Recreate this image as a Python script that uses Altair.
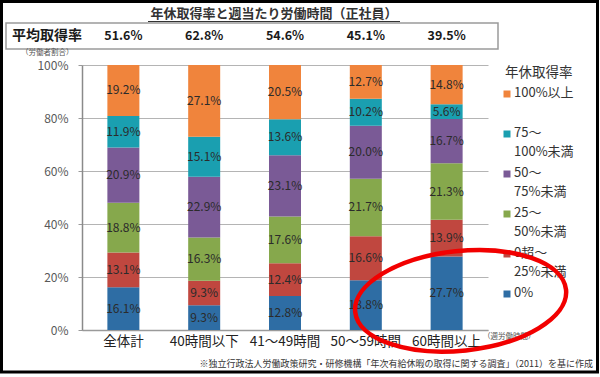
import altair as alt
import pandas as pd

FONT = "Noto Sans CJK JP"

categories = ["全体計", "40時間以下", "41～49時間", "50～59時間", "60時間以上"]
avg_rate = ["51.6%", "62.8%", "54.6%", "45.1%", "39.5%"]

# stacking order: bottom -> top
levels = ["0%", "0超～25%未満", "25～50%未満", "50～75%未満", "75～100%未満", "100%以上"]
legend_lines = [["0%"], ["0超～", "25%未満"], ["25～", "50%未満"], ["50～", "75%未満"],
                ["75～", "100%未満"], ["100%以上"]]
colors = ["#2E6DA4", "#C0473F", "#86A84C", "#7A5A96", "#1A9FB0", "#F0843C"]

v_0 = [16.1, 9.3, 12.8, 18.8, 27.7]
v_0_25 = [13.1, 9.3, 12.4, 16.6, 13.9]
v_25_50 = [18.8, 16.3, 17.6, 21.7, 21.3]
v_50_75 = [20.9, 22.9, 23.1, 20.0, 16.7]
v_75_100 = [11.9, 15.1, 13.6, 10.2, 5.6]
v_100 = [19.2, 27.1, 20.5, 12.7, 14.8]
series = [v_0, v_0_25, v_25_50, v_50_75, v_75_100, v_100]

rows = []
for k, (lvl, vals) in enumerate(zip(levels, series)):
    for c, v in zip(categories, vals):
        rows.append({"cat": c, "level": lvl, "order": k, "value": v})
df = pd.DataFrame(rows)

xscale = alt.Scale(domain=categories, paddingInner=0.604, paddingOuter=0.314)
yscale = alt.Scale(domain=[0, 100])
cscale = alt.Scale(domain=levels, range=colors)

base = alt.Chart(df).transform_stack(
    stack="value", groupby=["cat"], sort=[alt.SortField("order", order="ascending")], as_=["y0", "y1"]
).transform_calculate(
    mid="(datum.y0 + datum.y1) / 2",
    lab="format(datum.value, '.1f') + '%'",
)

bars = base.mark_bar().encode(
    x=alt.X("cat:N", scale=xscale, sort=categories,
            axis=alt.Axis(title=None, labelAngle=0, ticks=False, labelPadding=4,
                          labelFontSize=13.5, labelColor="#222", labelFont=FONT,
                          domainColor="#9A9A9A", domainWidth=1.5)),
    y=alt.Y("y0:Q", scale=yscale,
            axis=alt.Axis(title=None, values=[0, 20, 40, 60, 80, 100],
                          labelExpr="datum.value + '%'", labelFontSize=12,
                          labelColor="#595959", labelFont=FONT, tickSize=4,
                          tickColor="#9A9A9A", labelPadding=10,
                          gridColor="#B4B4B4", gridWidth=1,
                          domainColor="#8A8A8A", domainWidth=1.5)),
    y2="y1:Q",
    color=alt.Color("level:N", scale=cscale, legend=None),
)

bar_labels = base.mark_text(fontSize=12, font=FONT, color="#2B2B2B").encode(
    x=alt.X("cat:N", scale=xscale, sort=categories),
    y=alt.Y("mid:Q", scale=yscale),
    text="lab:N",
)

one = pd.DataFrame({"a": [0]})

# top "平均取得率" table
box = alt.Chart(one).mark_rect(fillOpacity=0, stroke="#9A9A9A", strokeWidth=1.5).encode(
    x=alt.value(-76), x2=alt.value(416), y=alt.value(-42), y2=alt.value(-16)
)
box_head = alt.Chart(one).mark_text(
    text="平均取得率", font=FONT, fontSize=14, fontWeight="bold", align="left", color="#1A1A1A"
).encode(x=alt.value(-70), y=alt.value(-29))
avg_df = pd.DataFrame({"cat": categories, "rate": avg_rate})
avg_text = alt.Chart(avg_df).mark_text(font=FONT, fontSize=12.5, fontWeight="bold", color="#1A1A1A").encode(
    x=alt.X("cat:N", scale=xscale, sort=categories), y=alt.value(-29), text="rate:N"
)

title = alt.Chart(one).mark_text(
    text="年休取得率と週当たり労働時間（正社員）", font=FONT, fontSize=13, fontWeight="bold", color="#333"
).encode(x=alt.value(192), y=alt.value(-51))
underline = alt.Chart(one).mark_rule(color="#333", strokeWidth=1).encode(
    x=alt.value(66), x2=alt.value(318), y=alt.value(-43.5)
)

y_unit = alt.Chart(one).mark_text(
    text="（労働者割合）", font=FONT, fontSize=7.5, color="#555", align="left"
).encode(x=alt.value(-61), y=alt.value(-12))
x_unit = alt.Chart(one).mark_text(
    text="（週労働時間）", font=FONT, fontSize=7.5, color="#555", align="left"
).encode(x=alt.value(401), y=alt.value(272))
note = alt.Chart(one).mark_text(
    text="※独立行政法人労働政策研究・研修機構「年次有給休暇の取得に関する調査」（2011）を基に作成",
    font=FONT, fontSize=9, color="#333", align="right"
).encode(x=alt.value(511), y=alt.value(299))

# legend (top item first)
legend_layers = [
    alt.Chart(one).mark_text(text="年休取得率", font=FONT, fontSize=13.5, color="#333", align="left").encode(
        x=alt.value(423), y=alt.value(8)
    )
]
for i, k in enumerate(reversed(range(len(levels)))):
    yy = 29 + 40 * i
    legend_layers.append(
        alt.Chart(one).mark_square(size=49, color=colors[k], opacity=1).encode(
            x=alt.value(425), y=alt.value(yy)
        )
    )
    legend_layers.append(
        alt.Chart(one).mark_text(text=legend_lines[k], font=FONT, fontSize=13, color="#333",
                                 align="left", baseline="top", dy=-7.5, lineHeight=19.5).encode(
            x=alt.value(432), y=alt.value(yy)
        )
    )

# red ellipse annotation
k_ = 0.5523
r_ = 0.47
ellipse_path = (
    f"M -1 0 C -1 {-k_*r_:.4f} {-k_:.4f} {-r_} 0 {-r_} "
    f"C {k_:.4f} {-r_} 1 {-k_*r_:.4f} 1 0 "
    f"C 1 {k_*r_:.4f} {k_:.4f} {r_} 0 {r_} "
    f"C {-k_:.4f} {r_} -1 {k_*r_:.4f} -1 0 Z"
)
ell_df = pd.DataFrame({"cat": ["60時間以上"], "yv": [11]})
ellipse = alt.Chart(ell_df).mark_point(
    shape=ellipse_path, size=(2 * 106) ** 2, filled=False, stroke="#F20000",
    strokeWidth=4.5, opacity=1, angle=354, xOffset=14
).encode(
    x=alt.X("cat:N", scale=xscale, sort=categories),
    y=alt.Y("yv:Q", scale=yscale),
)

frame = alt.Chart(one).mark_rect(fillOpacity=0, stroke="black", strokeWidth=3).encode(
    x=alt.value(-80.5), x2=alt.value(515.5), y=alt.value(-63.5), y2=alt.value(307)
)

chart = alt.layer(
    bars, bar_labels, box, box_head, avg_text, title, underline, y_unit, x_unit, note,
    *legend_layers, ellipse, frame
).properties(
    width=406, height=265,
    autosize=alt.AutoSizeParams(type="none"),
    padding={"left": 82, "top": 65, "right": 112, "bottom": 47},
    background="white",
).configure_view(stroke=None)

chart.save("out.html", embed_options={"renderer": "svg", "actions": False})
